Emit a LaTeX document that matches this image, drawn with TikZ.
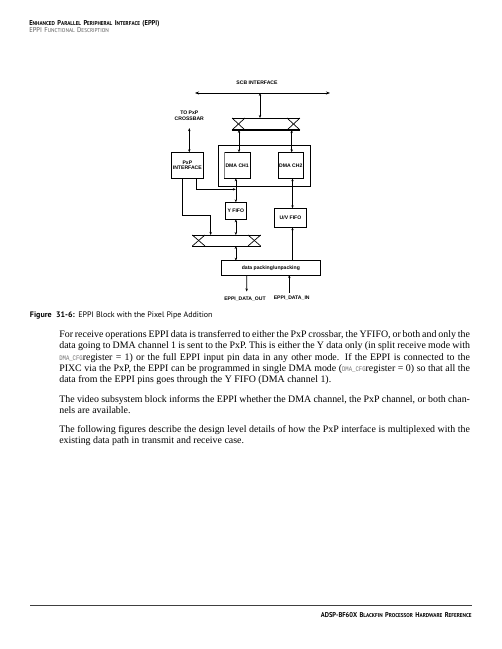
\documentclass[tikz,border=0pt]{standalone}
\usepackage{fontspec}
\setmainfont{Liberation Serif}
\newfontfamily\hdrfont{PT Sans}
\newfontfamily\diafont{Liberation Sans}
\newfontfamily\capfont{PT Sans}
\setmonofont{Liberation Mono}
\usetikzlibrary{arrows.meta,calc}
\newcommand\hsc[2]{{\fontsize{7}{8}\selectfont #1}{\fontsize{5.6}{8}\selectfont #2}}
\newcommand\regnm[1]{{\color{black!55}\scalebox{0.8}[1]{\ttfamily\fontsize{7}{8}\selectfont #1}}}
\newcommand\jl[1]{\makebox[410.7pt][s]{#1}}
\newcommand\para[1]{\parbox[t]{410.7pt}{\fontsize{9.9}{11.35}\selectfont\raggedright #1}}
\begin{document}
\begin{tikzpicture}[x=1pt,y=-1pt,
  every node/.style={inner sep=0pt, outer sep=0pt},
  lbl/.style={font=\diafont\bfseries\fontsize{5.1}{5.6}\selectfont, align=center},
  blk/.style={draw, line width=0.7pt, lbl},
  ln/.style={line width=0.7pt},
  ar/.style={ln,-{Stealth[length=3pt,width=2.4pt]}},
  dar/.style={ln,{Stealth[length=3pt,width=2.4pt]}-{Stealth[length=3pt,width=2.4pt]}},
  busar/.style={line width=1pt,{Stealth[length=4pt,width=3pt]}-{Stealth[length=4pt,width=3pt]}},
  body/.style={anchor=base west},
]
\useasboundingbox (0,0) rectangle (502,649);
\fill[white] (0,0) rectangle (502,649);

% header
\node[anchor=base west, font=\hdrfont\bfseries] (h1) at (29.3,25)
  {\scalebox{0.93}[1]{\hsc{E}{NHANCED} \hsc{P}{ARALLEL} \hsc{P}{ERIPHERAL} \hsc{I}{NTERFACE} {\fontsize{7}{8}\selectfont (EPPI)}}};
\node[anchor=base west, font=\hdrfont, text=black!65] (h2) at (29.3,32.5)
  {\scalebox{0.93}[1]{{\fontsize{7}{8}\selectfont EPPI} \hsc{F}{UNCTIONAL} \hsc{D}{ESCRIPTION}}};

% diagram
\node[lbl] (scb) at (257,83) {SCB INTERFACE};
\coordinate (busL) at (195,93);
\coordinate (busR) at (330,93);
\coordinate (busC) at (260,93);
\draw[busar] (busL) -- (busR);

\node[minimum width=68pt, minimum height=12pt] (xu) at (266,124) {};
\draw[ln] (xu.north west) -- (xu.north east);
\draw[line width=1.3pt] (xu.south west) -- (xu.south east);
\draw[ln] (xu.north west) -- ++(13,12);
\draw[ln] (xu.south west) -- ++(13,-12);
\draw[ln] (xu.north east) -- ++(-13,12);
\draw[ln] (xu.south east) -- ++(-13,-12);
\draw[dar] (busC) -- (xu.north -| busC);

\node[draw, ln, minimum width=92.4pt, minimum height=41pt] (grp) at (264.5,165.5) {};
\node[blk, minimum width=25.7pt, minimum height=26pt] (dma1) at (237.15,165.3) {DMA CH1};
\draw[black!50, line width=1.2pt] ([xshift=0.3pt]dma1.north west) -- ([xshift=0.3pt]dma1.south west);
\node[blk, minimum width=25pt, minimum height=26pt] (dma2) at (290.8,165.3) {DMA CH2};
\node[blk, minimum width=32.7pt, minimum height=26pt] (pxp) at (187.35,165.3) {PxP\\INTERFACE};
\node[lbl] (topxp) at (189.3,115.5) {TO PxP\\CROSSBAR};

\coordinate (d1top) at ([xshift=1.85pt]dma1.north);
\coordinate (d2top) at ([xshift=0.9pt]dma2.north);
\draw[dar] (xu.south -| d1top) -- (d1top);
\draw[dar] (xu.south -| d2top) -- (d2top);
\coordinate (tox) at ([yshift=-8pt]topxp.south);
\draw[dar] (tox) -- (pxp.north -| tox);

\node[blk, minimum width=21.7pt, minimum height=17pt] (yf) at (235.85,210.8) {Y FIFO};
\node[minimum width=68.4pt, minimum height=11pt] (xl) at (226.5,240.5) {};
\draw[ln] (xl.north west) -- (xl.north east);
\draw[ln] (xl.south west) -- (xl.south east);
\draw[ln] (xl.north west) -- ++(12.7,11);
\draw[ln] (xl.south west) -- ++(12.7,-11);
\draw[ln] (xl.north east) -- ++(-12.7,11);
\draw[ln] (xl.south east) -- ++(-12.7,-11);

\node[blk, minimum width=32.4pt, minimum height=19pt] (uv) at (290.5,217.8) {U/V FIFO};
\node[blk, minimum width=98.3pt, minimum height=14.3pt] (pk) at (270.85,267.85) {data packing/unpacking};

\draw[dar] (dma1.south -| yf.north) -- (yf.north);
\coordinate (p1) at ([xshift=9.35pt]pxp.south);
\draw[ar] (p1) |- ($(dma1.south -| yf.north)!0.46!(yf.north)$);
\coordinate (p2) at ([xshift=-5pt]pxp.south);
\coordinate (xlin) at ([xshift=-15.8pt]xl.north);
\draw[ar] (p2) -- ++(0,36.7) -| (xlin);
\draw[dar] (yf.south) -- (xl.north -| yf.south);
\draw[dar] (xl.south -| yf.south) -- (pk.north -| yf.south);
\coordinate (uvx) at ([xshift=2pt]uv.north);
\draw[dar] (dma2.south -| uvx) -- (uvx);
\draw[ar] (pk.north -| uvx) -- (uv.south -| uvx);

\node[lbl] (dout) at (245,299) {EPPI\_DATA\_OUT};
\node[lbl] (din) at (291.7,298.5) {EPPI\_DATA\_IN};
\coordinate (o1) at ([xshift=-24.15pt]pk.south);
\coordinate (o2) at (246.7,291.5);
\draw[ar] (o1) -- (o2);
\coordinate (i1) at (289.3,292.7);
\draw[ar] (i1) -- (pk.south -| i1);

% caption
\node[anchor=base west, font=\capfont\fontsize{8}{10}\selectfont] (cap) at (30,317.5)
  {\textbf{Figure}\hspace{0.55em}\textbf{31-6:}\hspace{0.45em}EPPI Block with the Pixel Pipe Addition};

% body
\node[body] (para1) at (59.3,337.5) {\para{%
\jl{For receive operations EPPI data is transferred to either the PxP crossbar, the YFIFO, or both and only the}\\
\jl{data going to DMA channel 1 is sent to the PxP. This is either the Y data only (in split receive mode with}\\
\jl{\regnm{DMA\_CFG}register = 1) or the full EPPI input pin data in any other mode. If the EPPI is connected to the}\\
\jl{PIXC via the PxP, the EPPI can be programmed in single DMA mode (\regnm{DMA\_CFG}register = 0) so that all the}\\
data from the EPPI pins goes through the Y FIFO (DMA channel 1).}};
\node[body] (para2) at (59.3,402.5) {\para{%
\jl{The video subsystem block informs the EPPI whether the DMA channel, the PxP channel, or both chan-}\\
nels are available.}};
\node[body] (para3) at (59.3,432.5) {\para{%
\jl{The following figures describe the design level details of how the PxP interface is multiplexed with the}\\
existing data path in transmit and receive case.}};

% footer
\coordinate (ftL) at (30,605);
\coordinate (ftR) at (471.7,605);
\draw[line width=0.8pt, black!75] (ftL) -- (ftR);
\node[anchor=base east, font=\hdrfont\bfseries] (foot) at (471.7,617)
  {\scalebox{0.93}[1]{{\fontsize{7}{8}\selectfont ADSP-BF60X} \hsc{B}{LACKFIN} \hsc{P}{ROCESSOR} \hsc{H}{ARDWARE} \hsc{R}{EFERENCE}}};
\end{tikzpicture}
\end{document}
